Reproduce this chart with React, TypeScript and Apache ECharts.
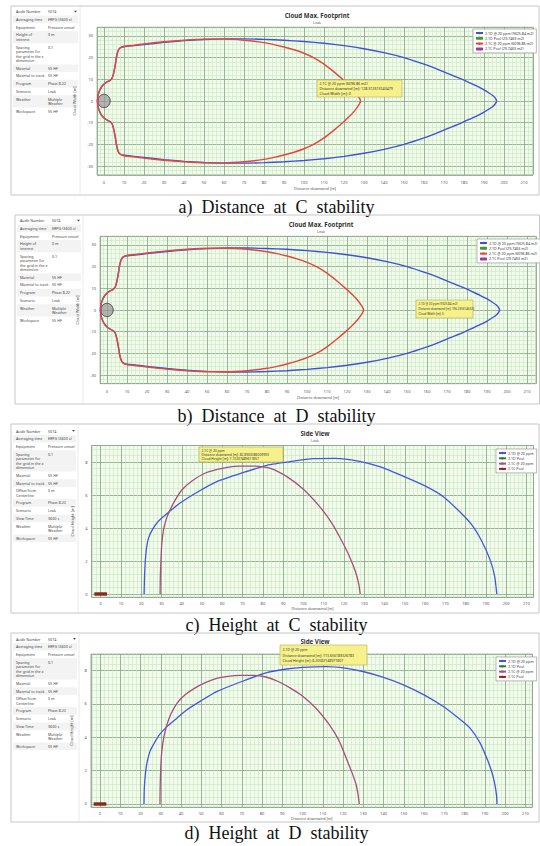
import React, { useEffect, useRef } from "react";
import * as echarts from "echarts";

// ---------------- data ----------------
const captions = [
  "a)\u00a0 Distance\u00a0 at\u00a0 C\u00a0 stability",
  "b)\u00a0 Distance\u00a0 at\u00a0 D\u00a0 stability",
  "c)\u00a0 Height\u00a0 at\u00a0 C\u00a0 stability",
  "d)\u00a0 Height\u00a0 at\u00a0 D\u00a0 stability",
];
const footprintTitle = "Cloud Max. Footprint";
const sideTitle = "Side View";
const scenarioName = "Leak";
const xAxisName = "Distance downwind [m]";
const footprintYName = "Cloud Width [m]";
const sideYName = "Cloud Height [m]";

const footprintNames = [
  "2.1D @ 20 ppm (9325.84 m2)",
  "2.1D Pool (29.7463 m2)",
  "2.1C @ 20 ppm (6096.86 m2)",
  "2.1C Pool (29.7463 m2)",
];
const sideNames = ["2.1D @ 20 ppm", "2.1D Pool", "2.1C @ 20 ppm", "2.1C Pool"];

const poolRadius = 3.08; // m (pool of 29.7463 m2)

// footprint outline, upper half (x, half-width)
const nearSourceOutline = [
  [-3.3, 0], [-3, 2.5], [-2.2, 4.8], [-1, 6.8], [0.5, 8.2], [2, 9], [3.2, 9.6],
  [4.2, 10.8], [5, 13.5], [5.7, 17], [6.3, 20.5], [7, 23], [8, 24.4],
];
const footprintDUpper = [
  [10, 25], [15, 25.5], [20, 26], [30, 27], [40, 27.8], [50, 28.3], [60, 28.6],
  [70, 28.6], [80, 28.4], [90, 28], [100, 27.4], [110, 26.6], [120, 25.5],
  [130, 24.1], [140, 22.3], [150, 20], [160, 17], [166, 14.9], [172, 12.6],
  [178, 10.4], [183, 8.3], [186.5, 6.8], [189.8, 5.2], [192.5, 3.7], [194.7, 2.3],
  [195.8, 1.1], [196.3, 0],
];
const footprintCUpper = [
  [10, 25.2], [15, 25.7], [20, 26.3], [30, 27.3], [40, 28], [50, 28.5], [60, 28.5],
  [70, 28], [80, 26.9], [85, 26], [90, 24.9], [95, 23.6], [100, 22], [105, 19.9],
  [110, 17], [115, 13.4], [120, 9.4], [123, 6.8], [125.5, 4.3], [127, 2.4],
  [127.9, 1], [128.3, 0],
];

// side view (x, height) at C stability
const sideC_D = [
  [21.4, 0], [21.6, 1], [22, 2], [22.6, 2.8], [23.6, 3.4], [25.5, 3.9], [28, 4.35],
  [32, 4.8], [39, 5.5], [48, 6.2], [57, 6.8], [70, 7.35], [82, 7.8], [95, 8.05],
  [105, 8.2], [116, 8.22], [127, 8.05], [138, 7.7], [150, 7.1], [160, 6.55],
  [169, 5.9], [177, 5], [183, 4.2], [188, 3.2], [192, 2.1], [194.3, 1.1], [195.4, 0],
];
const sideC_C = [
  [29.3, 0], [29.4, 1], [29.7, 2], [30.1, 3], [31, 3.9], [32.5, 4.6], [34.2, 5.1],
  [37, 5.75], [40, 6.3], [45, 6.85], [52, 7.35], [60, 7.62], [68, 7.75], [76, 7.75],
  [84, 7.6], [92, 7.1], [100, 6.35], [108, 5.3], [114, 4.3], [119, 3.2], [123, 2.2],
  [125.8, 1.3], [127.3, 0.6], [128, 0],
];
// side view at D stability
const sideD_D = [
  [21.7, 0], [21.9, 1], [22.5, 1.9], [23.4, 2.6], [24.8, 3.2], [26.3, 3.55], [29, 4.1],
  [33, 4.64], [38, 5.15], [42.8, 5.64], [50, 6.2], [57.6, 6.74], [70, 7.35], [82.3, 7.88],
  [92, 8.1], [100.4, 8.2], [111.9, 8.24], [121, 8.15], [129.8, 7.95], [140, 7.6],
  [149.8, 7.15], [160, 6.55], [169.5, 5.85], [176, 5.25], [182.7, 4.55], [187.5, 3.7],
  [191, 2.74], [193.5, 1.9], [195, 1.14], [195.8, 0.5], [196, 0],
];
const sideD_C = [
  [29.6, 0], [29.7, 1], [30, 2.2], [30.5, 3.14], [31.5, 4], [33, 4.74], [35, 5.4],
  [38, 6.04], [42, 6.55], [46.6, 6.94], [52, 7.28], [57.6, 7.54], [63, 7.66], [69, 7.72],
  [75, 7.72], [82, 7.62], [88, 7.35], [94, 6.95], [100.4, 6.44], [107, 5.7], [113.3, 4.74],
  [118, 3.8], [121.6, 2.74], [124.5, 1.85], [126.5, 1.14], [127.5, 0.5], [128, 0],
];

const footprintTable = [
  ["Audit Number", "5074"],
  ["Averaging time", "ERPG (3600 s)"],
  ["Equipment", "Pressure vessel"],
  ["Height of\ninterest", "0 m"],
  ["Spacing\nparameter for\nthe grid in the x\ndimension", "0.1"],
  ["Material", "55 HF"],
  ["Material to track", "55 HF"],
  ["Program", "Phast 8.22"],
  ["Scenario", "Leak"],
  ["Weather", "Multiple\nWeather"],
  ["Workspace", "55 HF"],
];
const sideTable = [
  ["Audit Number", "5074"],
  ["Averaging time", "ERPG (3600 s)"],
  ["Equipment", "Pressure vessel"],
  ["Spacing\nparameter for\nthe grid in the x\ndimension", "0.1"],
  ["Material", "55 HF"],
  ["Material to track", "55 HF"],
  ["Offset from\nCenterline", "0 m"],
  ["Program", "Phast 8.22"],
  ["Scenario", "Leak"],
  ["View Time", "3600 s"],
  ["Weather", "Multiple\nWeather"],
  ["Workspace", "55 HF"],
];

const tipTexts = [
  ["2.1C @ 20 ppm (6096.86 m2)", "Distance downwind [m]: 128.312613240479", "Cloud Width [m]: 0"],
  ["2.1D @ 20 ppm (9325.84 m2)", "Distance downwind [m]: 196.2356146320", "Cloud Width [m]: 0"],
  ["2.1C @ 20 ppm", "Distance downwind [m]: 82.8900386009993", "Cloud Height [m]: 7.72207489611857"],
  ["2.1D @ 20 ppm", "Distance downwind [m]: 113.656189326783", "Cloud Height [m]: 8.20582148971807"],
];

// ---------------- layout ----------------
const FONT = "Noto Sans";
const panels = [
  { kind: "fp", frame: [11, 6, 539, 195], sep: 80, tableTop: 7.9, titleX: 317, titleY: 15,
    grid: { left: 97, top: 27.2, width: 436, height: 147.6 }, xr: [-3.5, 214.5], yr: [-34, 34],
    legend: [473, 29], tip: [317, 80, 85, 17], tipFont: 3.6, capY: 207 },
  { kind: "fp", frame: [15, 215, 539.5, 404], sep: 83, tableTop: 216.9, titleX: 321, titleY: 224,
    grid: { left: 100, top: 236.3, width: 436, height: 147.4 }, xr: [-3.5, 214.5], yr: [-34, 34],
    legend: [477, 239], tip: [416, 300, 57, 18], tipFont: 2.9, capY: 415.5 },
  { kind: "sv", frame: [11, 424, 539, 613], sep: 78, tableTop: 427.2, titleX: 315, titleY: 433,
    grid: { left: 91.6, top: 445.5, width: 441.9, height: 151.8 }, xr: [-4.5, 213.5], yr: [-0.2, 9],
    legend: [496, 449], tip: [199, 447, 84, 15], tipFont: 3.3, capY: 624.5 },
  { kind: "sv", frame: [11, 633, 539, 822], sep: 79, tableTop: 635.2, titleX: 315, titleY: 641,
    grid: { left: 90.9, top: 654, width: 441.5, height: 153.3 }, xr: [-4.5, 213.5], yr: [-0.2, 9],
    legend: [496, 657], tip: [280, 645, 87, 20], tipFont: 3.5, capY: 833 },
];

function mirrorContour(upper: number[][]) {
  const lower = upper.slice(0, -1).reverse().map(([x, y]) => [x, -y]);
  return upper.concat(lower);
}

function buildTable(rows: string[][], left: number, top: number, right: number) {
  const lineH = 4.5, pad = 3.2;
  const els: any[] = [];
  let y = top;
  rows.forEach(([label, value], i) => {
    const n = Math.max(label.split("\n").length, value.split("\n").length);
    const h = n * lineH + pad;
    if (i % 2 === 1) {
      els.push({ type: "rect", silent: true, shape: { x: left + 2, y, width: right - left - 4, height: h },
        style: { fill: "#f3f3f3" } });
    }
    els.push({ type: "text", silent: true, style: { text: label, x: left + 5, y: y + pad / 2,
      fontSize: 3.7, fontFamily: FONT, fill: "#444", lineHeight: lineH, verticalAlign: "top" } });
    els.push({ type: "text", silent: true, style: { text: value, x: left + 37, y: y + pad / 2,
      fontSize: 3.7, fontFamily: FONT, fill: "#444", lineHeight: lineH, verticalAlign: "top" } });
    y += h;
  });
  return els;
}

function axisPair(gi: number, position: string, range: number[], major: number, minor: number, name: string,
  nameGap: number, labelMargin: number) {
  const minorAxis = {
    type: "value", gridIndex: gi, position, offset: 0, min: range[0], max: range[1],
    minInterval: minor, maxInterval: minor,
    axisLine: { show: false }, axisTick: { show: false }, axisLabel: { show: false },
    splitLine: { show: true, lineStyle: { color: "#bfe6b4", width: 0.5 } }, silent: true,
  };
  const majorAxis = {
    type: "value", gridIndex: gi, position, offset: 0, min: range[0], max: range[1],
    minInterval: major, maxInterval: major,
    axisLine: { show: false }, axisTick: { show: false },
    axisLabel: { fontSize: 4, color: "#555", fontFamily: FONT, margin: labelMargin,
      showMinLabel: false, showMaxLabel: false },
    splitLine: { show: true, lineStyle: { color: "#6f906f", width: 0.6 } },
    name, nameLocation: "middle", nameGap,
    nameTextStyle: { fontSize: 3.8, color: "#555", fontFamily: FONT },
  };
  return [minorAxis, majorAxis];
}

function poolRender(params: any, api: any) {
  const c = api.coord([api.value(0), api.value(1)]);
  const s = api.size([api.value(2), api.value(2)]);
  return {
    type: "ellipse",
    shape: { cx: c[0], cy: c[1], rx: s[0], ry: s[1] },
    style: { fill: "rgba(150,150,150,0.45)", stroke: "#555", lineWidth: 0.7 },
  };
}

function buildOption() {
  const grid: any[] = [];
  const xAxis: any[] = [];
  const yAxis: any[] = [];
  const series: any[] = [];
  const legend: any[] = [];
  const elements: any[] = [];

  const fpD = mirrorContour(nearSourceOutline.concat(footprintDUpper));
  const fpC = mirrorContour(nearSourceOutline.concat(footprintCUpper));

  panels.forEach((p, gi) => {
    grid.push({ ...p.grid, show: true, backgroundColor: "#f1faec", borderColor: "#8a8a8a", borderWidth: 0.6 });
    const isFp = p.kind === "fp";
    xAxis.push(...axisPair(gi, "bottom", p.xr, 10, 2, xAxisName, isFp ? 12 : 9, isFp ? 6 : 4.5));
    yAxis.push(...axisPair(gi, "left", p.yr, isFp ? 10 : 2, isFp ? 2 : 0.4, isFp ? footprintYName : sideYName,
      isFp ? 9 : 5, 4));
    const xi = gi * 2 + 1, yi = gi * 2 + 1;
    const names = isFp ? footprintNames : sideNames;

    if (isFp) {
      series.push(
        { type: "line", name: names[0], xAxisIndex: xi, yAxisIndex: yi, data: fpD, symbol: "none",
          smooth: 0.15, lineStyle: { color: "#4150d8", width: 1.4 }, itemStyle: { color: "#4150d8" } },
        { type: "custom", name: names[1], xAxisIndex: xi, yAxisIndex: yi, data: [[0, 0, poolRadius]],
          renderItem: poolRender, itemStyle: { color: "#3c9a3c" }, z: 3 },
        { type: "line", name: names[2], xAxisIndex: xi, yAxisIndex: yi, data: fpC, symbol: "none",
          smooth: 0.15, lineStyle: { color: "#e0483e", width: 1.4 }, itemStyle: { color: "#e0483e" } },
        { type: "custom", name: names[3], xAxisIndex: xi, yAxisIndex: yi, data: [[0, 0, poolRadius]],
          renderItem: poolRender, itemStyle: { color: "#9a3c9a" }, z: 3 },
      );
    } else {
      const dData = gi === 2 ? sideC_D : sideD_D;
      const cData = gi === 2 ? sideC_C : sideD_C;
      series.push(
        { type: "line", name: names[0], xAxisIndex: xi, yAxisIndex: yi, data: dData, symbol: "none",
          smooth: 0.2, lineStyle: { color: "#4656dc", width: 1.3 }, itemStyle: { color: "#4656dc" } },
        { type: "line", name: names[1], xAxisIndex: xi, yAxisIndex: yi,
          data: [[-poolRadius, 0], [poolRadius, 0]], symbol: "none",
          lineStyle: { color: "#2f7d2f", width: 3 }, itemStyle: { color: "#2f7d2f" } },
        { type: "line", name: names[2], xAxisIndex: xi, yAxisIndex: yi, data: cData, symbol: "none",
          smooth: 0.2, lineStyle: { color: "#a4507c", width: 1.3 }, itemStyle: { color: "#a4507c" } },
        { type: "line", name: names[3], xAxisIndex: xi, yAxisIndex: yi,
          data: [[-poolRadius, 0], [poolRadius, 0]], symbol: "none",
          lineStyle: { color: "#9a1f1f", width: 3 }, itemStyle: { color: "#9a1f1f" } },
      );
    }

    legend.push({
      orient: "vertical", left: p.legend[0], top: p.legend[1], selectedMode: false,
      data: isFp
        ? [names[0], { name: names[1], icon: "roundRect" }, names[2], { name: names[3], icon: "roundRect" }]
        : names,
      itemWidth: 7, itemHeight: 3, itemGap: 1.3, padding: [2, 3, 2, 2],
      backgroundColor: "#ffffff", borderColor: "#8a8a8a", borderWidth: 0.6,
      textStyle: { fontSize: 3.6, color: "#333", fontFamily: FONT, padding: [0, 0, 0, -3] },
    });

    // frame, separator, table
    const [fl, ft, fr, fb] = p.frame;
    elements.push({ type: "rect", silent: true, shape: { x: fl, y: ft, width: fr - fl, height: fb - ft },
      style: { fill: "none", stroke: "#c6c6c6", lineWidth: 1 } });
    elements.push({ type: "line", silent: true, shape: { x1: p.sep, y1: ft + 1, x2: p.sep, y2: fb - 1 },
      style: { stroke: "#e4e4e4", lineWidth: 0.8 } });
    elements.push(...buildTable(isFp ? footprintTable : sideTable, fl, p.tableTop, p.sep));
    elements.push({ type: "polygon", silent: true,
      shape: { points: [[p.sep - 6, p.tableTop + 2.8], [p.sep - 3, p.tableTop + 2.8], [p.sep - 4.5, p.tableTop + 4.6]] },
      style: { fill: "#444" } });

    // titles
    elements.push({ type: "text", silent: true, style: { text: isFp ? footprintTitle : sideTitle,
      x: p.titleX, y: p.titleY, textAlign: "center", verticalAlign: "middle",
      fontSize: 6.2, fontWeight: "bold", fontFamily: FONT, fill: "#333" } });
    elements.push({ type: "text", silent: true, style: { text: scenarioName,
      x: p.titleX, y: p.titleY + 7, textAlign: "center", verticalAlign: "middle",
      fontSize: 3.6, fontFamily: FONT, fill: "#555" } });

    // tooltip box
    const [tx, ty, tw, th] = p.tip;
    elements.push({ type: "rect", silent: true, z: 100, shape: { x: tx, y: ty, width: tw, height: th },
      style: { fill: "#f6f18a", stroke: "#b9ad55", lineWidth: 0.6 } });
    elements.push({ type: "text", silent: true, z: 101, style: { text: tipTexts[gi].join("\n"),
      x: tx + 2.5, y: ty + th / 2, verticalAlign: "middle", fontSize: p.tipFont,
      lineHeight: (th - 3) / 3, fontFamily: FONT, fill: "#333" } });

    // caption
    elements.push({ type: "text", silent: true, style: { text: captions[gi], x: 276.5, y: p.capY,
      textAlign: "center", verticalAlign: "middle", fontSize: 18, fontFamily: "Liberation Serif",
      fill: "#111" } });
  });

  return {
    animation: false,
    backgroundColor: "#ffffff",
    grid, xAxis, yAxis, series, legend,
    graphic: { elements },
  };
}

export default function App() {
  const ref = useRef<HTMLDivElement>(null);
  useEffect(() => {
    if (!ref.current) return;
    const chart = echarts.init(ref.current, undefined, { renderer: "svg", width: 540, height: 846 });
    chart.setOption(buildOption() as any);
    return () => chart.dispose();
  }, []);
  return (
    <div
      ref={ref}
      style={{ position: "absolute", left: 0, top: 0, width: 540, height: 846, background: "#fff" }}
    />
  );
}
